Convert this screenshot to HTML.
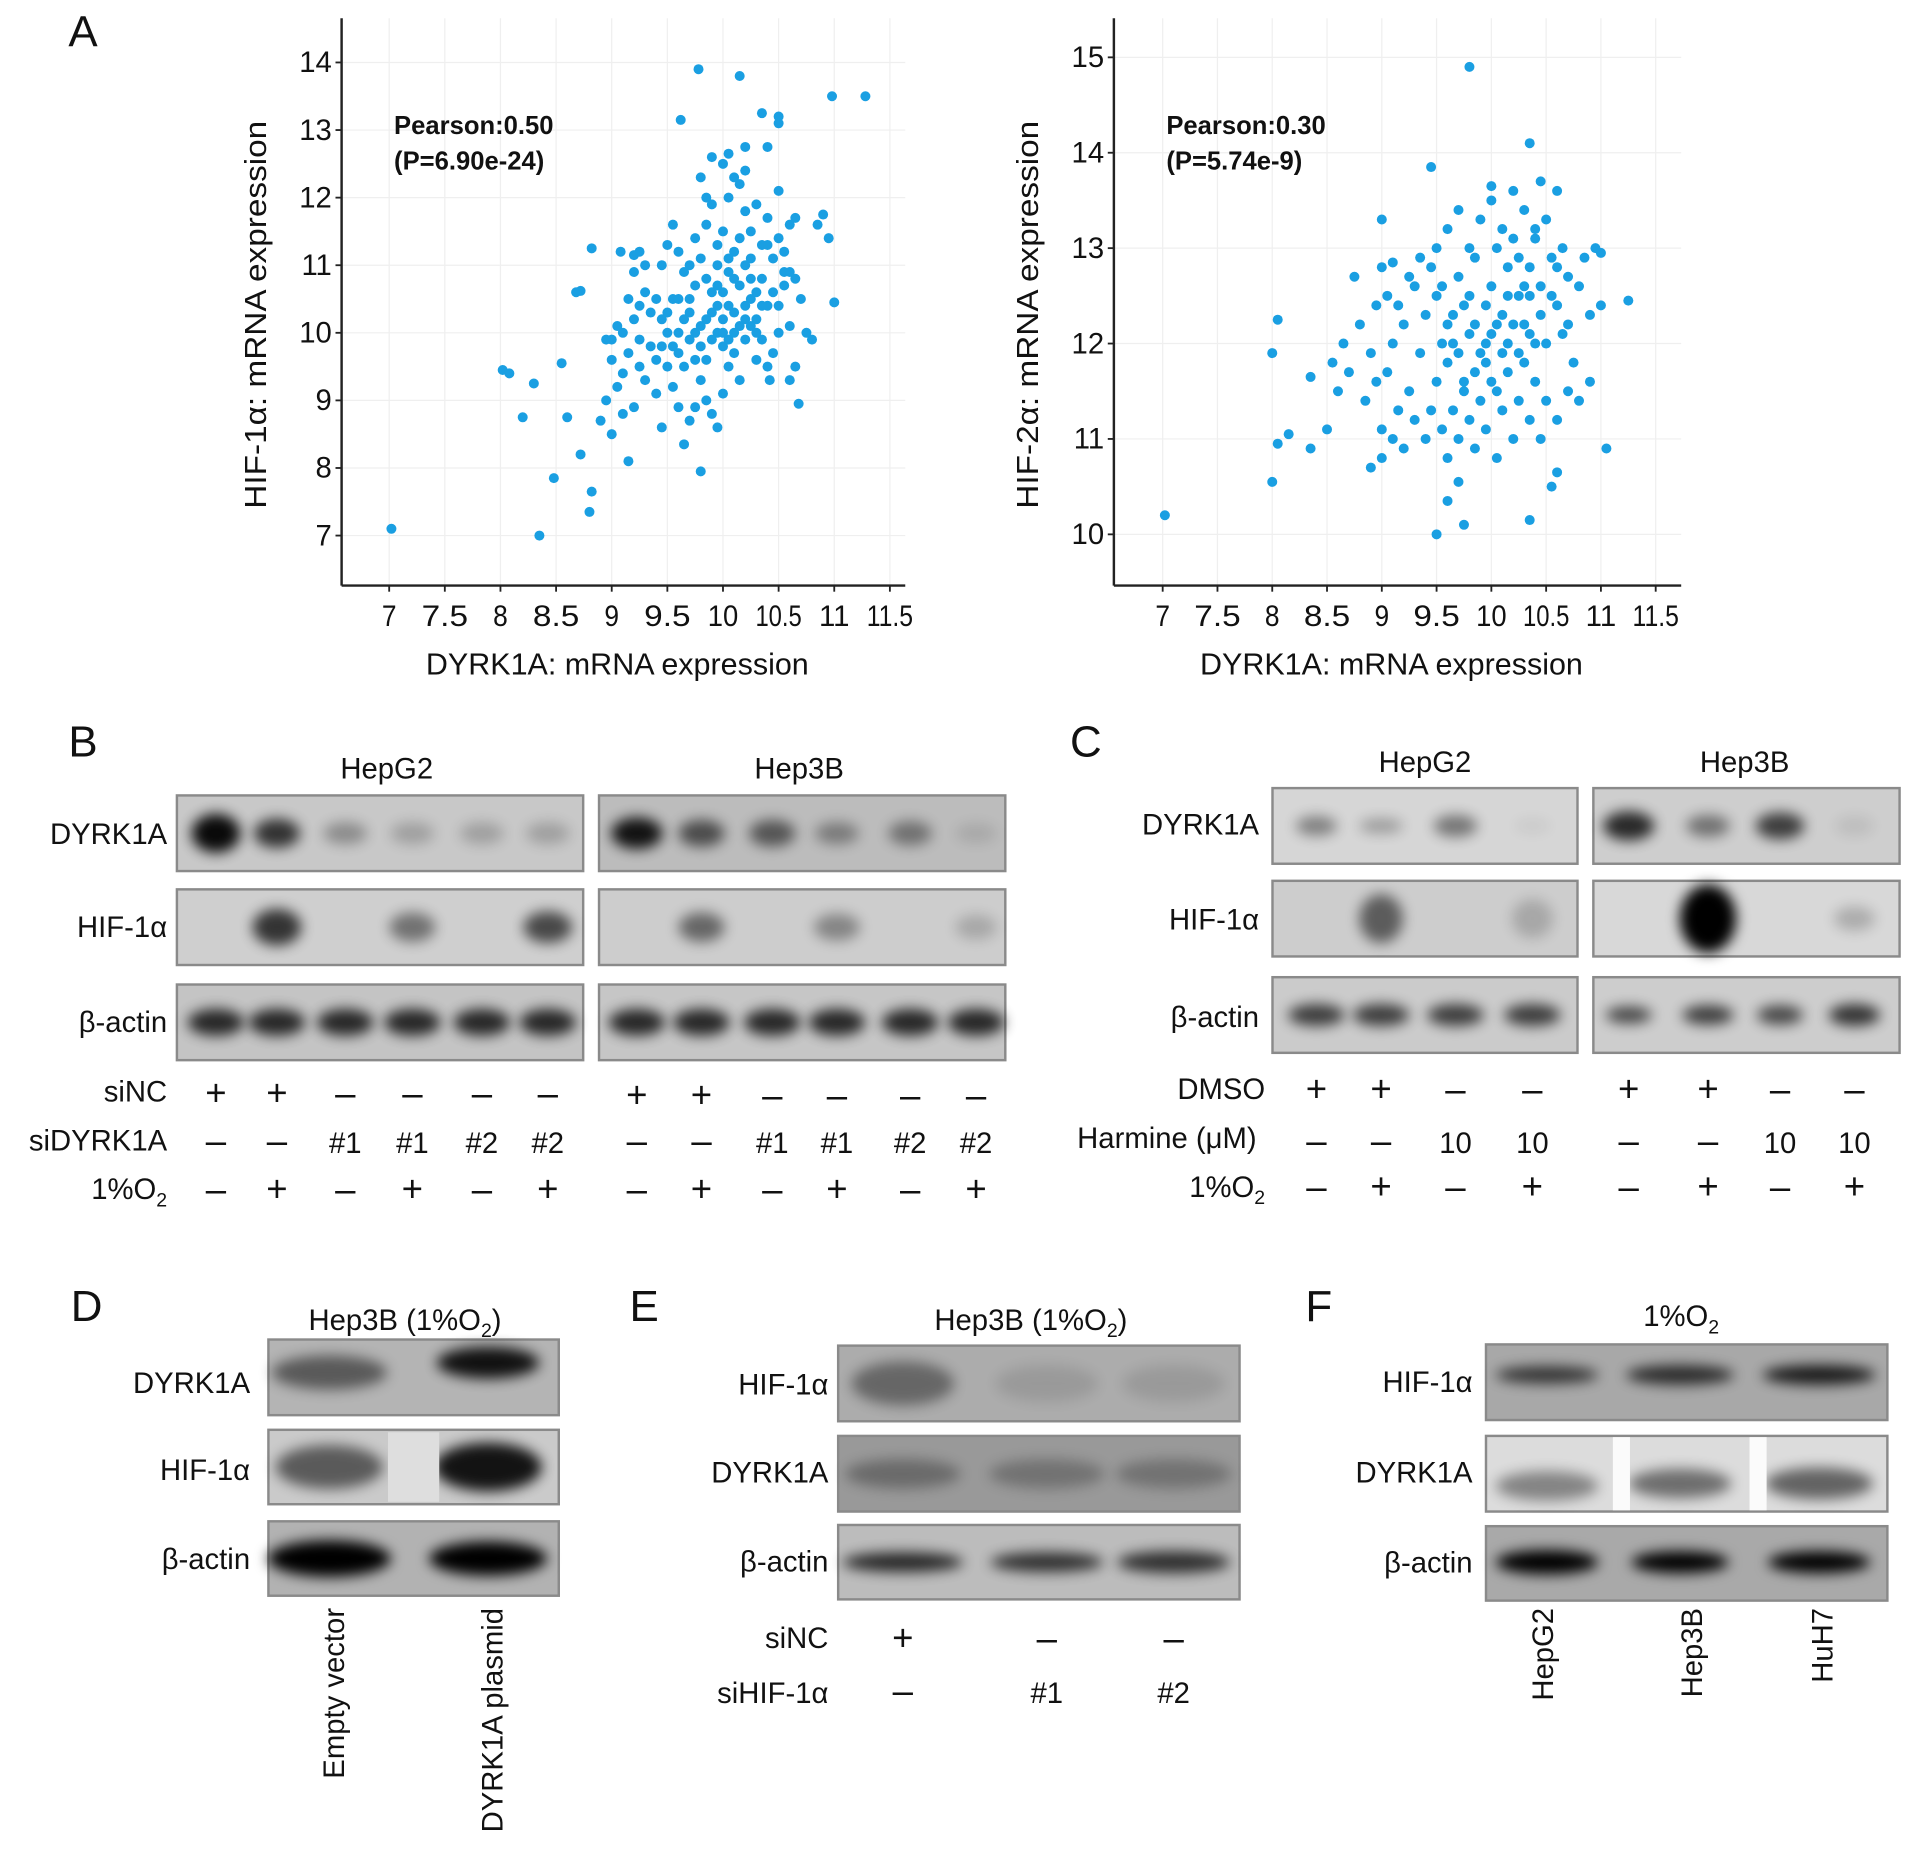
<!DOCTYPE html>
<html><head><meta charset="utf-8"><style>
html,body{margin:0;padding:0;background:#fff;}
svg{display:block;font-family:"Liberation Sans",Arial,sans-serif;}
</style></head><body>
<svg id="fig" width="1913" height="1869" viewBox="0 0 1568 1532" preserveAspectRatio="none" xmlns="http://www.w3.org/2000/svg">
<defs>
<filter id="blur" x="-60%" y="-80%" width="220%" height="260%"><feGaussianBlur stdDeviation="5.5"/></filter>
</defs>
<g id="root"></g>
</svg>
<script>
// ---------- Scatter data ----------
const xTicks = [7, 7.5, 8, 8.5, 9, 9.5, 10, 10.5, 11, 11.5];
const leftYTicks = [7, 8, 9, 10, 11, 12, 13, 14];
const rightYTicks = [10, 11, 12, 13, 14, 15];
const leftPoints = [
[7.02,7.1],[8.35,7.0],[8.8,7.35],[8.82,7.65],[8.48,7.85],[8.72,8.2],[9.15,8.1],[9.8,7.95],[8.02,9.45],[8.08,9.4],
[8.2,8.75],[8.3,9.25],[8.55,9.55],[8.6,8.75],[8.68,10.6],[8.72,10.62],[8.82,11.25],[9.08,11.2],[9.2,11.15],[9.25,11.2],
[9.78,13.9],[10.15,13.8],[10.98,13.5],[11.28,13.5],[9.62,13.15],[10.35,13.25],[10.5,13.2],[10.5,13.1],[10.05,12.65],[10.2,12.75],
[10.4,12.75],[11.0,10.45],[10.68,8.95],[10.65,9.5],[10.42,9.3],[10.8,9.9],[10.95,11.4],[10.85,11.6],[10.9,11.75],[10.5,12.1],
[9.5,10.0],[9.55,9.8],[9.6,9.7],[9.65,10.2],[9.7,10.5],[9.75,9.6],[9.8,10.1],[9.85,10.8],[9.9,9.9],[9.95,10.4],
[10.0,10.6],[10.05,10.9],[10.1,10.3],[10.15,10.7],[10.2,11.0],[10.25,10.5],[10.3,10.2],[10.35,10.8],[10.4,11.3],[10.45,10.6],
[10.5,10.0],[10.55,10.9],[10.6,11.6],[10.65,11.7],[9.4,10.5],[9.35,10.3],[9.3,10.6],[9.25,9.9],[9.2,10.2],[9.15,9.7],
[9.1,10.0],[9.05,9.2],[9.0,8.5],[9.0,9.9],[9.05,10.1],[9.1,8.8],[9.2,8.9],[9.3,9.3],[9.4,9.1],[9.45,8.6],
[9.5,9.5],[9.55,9.2],[9.6,8.9],[9.65,8.35],[9.7,8.7],[9.75,8.9],[9.8,9.3],[9.85,9.0],[9.9,8.8],[9.95,8.6],
[10.0,9.1],[10.05,9.5],[10.1,9.7],[10.15,9.3],[10.2,9.9],[10.25,10.1],[10.3,9.6],[10.35,9.9],[10.4,10.4],[10.45,9.7],
[10.5,10.4],[10.55,10.7],[10.6,10.1],[10.65,10.8],[10.7,10.5],[10.75,10.0],[9.45,11.0],[9.5,11.3],[9.55,11.6],[9.6,11.2],
[9.65,10.9],[9.7,11.0],[9.75,11.4],[9.8,11.1],[9.85,11.6],[9.9,11.9],[9.95,11.3],[10.0,11.5],[10.05,12.0],[10.1,11.2],
[10.15,12.2],[10.2,11.8],[10.25,11.5],[10.3,11.9],[10.35,11.3],[10.4,11.7],[9.4,9.6],[9.45,9.8],[9.5,10.3],[9.6,10.0],
[9.7,10.3],[9.75,10.7],[9.8,9.8],[9.85,10.2],[9.9,10.6],[9.95,10.0],[10.0,10.2],[10.0,9.8],[10.05,10.4],[10.1,10.0],
[10.1,10.8],[10.15,10.1],[10.2,10.4],[10.25,10.8],[10.3,10.6],[10.35,10.4],[10.05,9.9],[9.95,10.7],[9.85,9.6],[9.75,10.0],
[9.65,9.5],[9.55,10.5],[9.45,10.2],[9.35,9.8],[9.25,10.4],[9.15,10.5],[9.8,12.3],[9.85,12.0],[9.9,12.6],[10.0,12.5],
[10.1,12.3],[10.2,12.4],[9.95,11.0],[10.05,11.1],[10.15,11.4],[10.25,11.1],[10.45,11.1],[10.5,11.4],[10.55,11.2],[10.6,10.9],
[9.3,11.0],[9.2,10.9],[9.6,10.5],[9.7,9.9],[9.9,10.3],[10.0,10.0],[10.2,10.2],[10.3,10.0],[10.4,9.5],[10.6,9.3],
[9.0,9.6],[8.95,9.9],[8.9,8.7],[8.95,9.0],[9.1,9.4],[9.25,9.5]
];
const rightPoints = [
[7.02,10.2],[9.8,14.9],[9.45,13.85],[10.35,14.1],[9.5,10.0],[9.75,10.1],[10.35,10.15],[9.7,10.55],[10.6,10.65],[11.05,10.9],
[8.0,10.55],[8.05,10.95],[8.15,11.05],[8.35,10.9],[8.5,11.1],[8.35,11.65],[8.7,11.7],[8.75,12.7],[9.0,13.3],[9.1,12.85],
[11.25,12.45],[11.0,12.95],[10.6,13.6],[10.45,13.7],[10.0,13.65],[8.0,11.9],[8.05,12.25],[10.55,10.5],[9.6,10.35],
[9.5,12.5],[9.55,12.0],[9.6,11.8],[9.65,12.3],[9.7,12.7],[9.75,11.6],[9.8,12.1],[9.85,12.9],[9.9,11.9],[9.95,12.4],
[10.0,12.6],[10.05,13.0],[10.1,12.3],[10.15,12.8],[10.2,13.1],[10.25,12.5],[10.3,12.2],[10.35,12.8],[10.4,13.2],[10.45,12.6],
[10.5,12.0],[10.55,12.9],[10.6,12.4],[10.65,13.0],[10.7,12.2],[10.75,11.8],[10.8,12.6],[10.85,12.9],[10.9,12.3],[10.95,13.0],
[9.4,12.3],[9.35,11.9],[9.3,12.6],[9.25,11.5],[9.2,12.2],[9.15,11.3],[9.1,12.0],[9.05,11.7],[9.0,11.1],[8.95,12.4],
[8.9,11.9],[8.85,11.4],[8.8,12.2],[8.65,12.0],[8.6,11.5],[8.55,11.8],[9.4,11.0],[9.45,11.3],[9.5,11.6],[9.55,11.1],
[9.6,10.8],[9.65,11.3],[9.7,11.0],[9.75,11.5],[9.8,11.2],[9.85,10.9],[9.9,11.4],[9.95,11.1],[10.0,11.6],[10.05,10.8],
[10.1,11.3],[10.15,11.7],[10.2,11.0],[10.25,11.4],[10.3,11.8],[10.35,11.2],[10.4,11.6],[10.45,11.0],[10.5,11.4],[10.6,11.2],
[10.7,11.5],[9.1,11.0],[9.0,10.8],[8.9,10.7],[9.2,10.9],[9.3,11.2],[9.5,13.0],[9.6,13.2],[9.7,13.4],[9.8,13.0],
[9.9,13.3],[10.0,13.5],[10.1,13.2],[10.2,13.6],[10.3,13.4],[10.4,13.1],[9.45,12.8],[9.55,12.6],[9.65,12.0],[9.75,12.4],
[9.85,12.2],[9.95,12.0],[10.05,12.2],[10.15,12.0],[10.25,11.9],[10.35,12.1],[10.45,12.3],[10.55,12.5],[10.65,12.1],[9.85,11.7],
[9.95,11.8],[10.05,11.5],[10.15,12.5],[10.25,12.9],[10.35,12.5],[9.6,12.2],[9.7,11.9],[9.8,12.5],[10.0,12.1],[10.1,11.9],
[10.2,12.2],[10.3,12.6],[10.4,12.0],[9.35,12.9],[9.25,12.7],[9.15,12.4],[9.05,12.5],[8.95,11.6],[9.0,12.8],[10.5,13.3],
[10.6,12.8],[10.7,12.7],[10.8,11.4],[11.0,12.4],[10.9,11.6]
];

const NS = "http://www.w3.org/2000/svg";
const root = document.getElementById('root');
function mk(tag, attrs, parent) {
  const e = document.createElementNS(NS, tag);
  for (const k in attrs) e.setAttribute(k, attrs[k]);
  (parent || root).appendChild(e);
  return e;
}
function txt(x, y, s, size, anchor, parent, extra) {
  const t = mk('text', Object.assign({x: x, y: y, 'font-size': size, 'text-anchor': anchor || 'middle', fill: '#111'}, extra || {}), parent);
  t.innerHTML = s;
  return t;
}

function scatter(opt) {
  const g = mk('g', {});
  
  
  const sx = v => opt.x0px + (v - 7) / 0.5 * opt.xStep;
  const sy = v => opt.y0px - (v - opt.yMin) * opt.yUnit;
  xTicks.forEach(t => {
    const l = mk('line', {x1: sx(t), x2: sx(t), y1: 15, y2: opt.axisY, stroke: '#efefef', 'stroke-width': 1}, g);
    
    
  });
  opt.yTicks.forEach(t => {
    const l = mk('line', {x1: opt.axisX, x2: opt.axisX2, y1: sy(t), y2: sy(t), stroke: '#efefef', 'stroke-width': 1}, g);
    
    
  });
  const ya = mk('line', {x1: opt.axisX, x2: opt.axisX, y1: 15, y2: opt.axisY, stroke: '#222', 'stroke-width': 2}, g);
  
  
  const xa = mk('line', {x1: opt.axisX, x2: opt.axisX2, y1: opt.axisY, y2: opt.axisY, stroke: '#222', 'stroke-width': 2}, g);
  
  
  xTicks.forEach(t => {
    mk('line', {x1: sx(t), x2: sx(t), y1: opt.axisY, y2: opt.axisY + 5, stroke: '#222', 'stroke-width': 1.5}, g);
    const s = String(t);
    const tl = txt(sx(t), opt.axisY + 33, s, 24, 'middle', g, {'textLength': s.length > 2 ? 38 : (s.length > 1 ? 25 : 12), 'lengthAdjust': 'spacingAndGlyphs'});
    
    
  });
  opt.yTicks.forEach(t => {
    mk('line', {x1: opt.axisX - 5, x2: opt.axisX, y1: sy(t), y2: sy(t), stroke: '#222', 'stroke-width': 1.5}, g);
    const tl = txt(opt.axisX - 8, sy(t) + 8, String(t), 24, 'end', g);
    
    
  });
  opt.points.forEach(p => {
    const c = mk('circle', {cx: sx(p[0]), cy: sy(p[1]), r: 4.1, fill: '#1a9fe2'}, g);
    
    
  });
  const xt = txt((opt.axisX + opt.axisX2) / 2 - 5, 553, 'DYRK1A: mRNA expression', 25, 'middle', g);
  
  
  const yt = txt(0, 0, opt.yTitle, 25, 'middle', g, {transform: 'translate(' + (opt.axisX - 62) + ',258) rotate(-90)', textLength: 318, lengthAdjust: 'spacingAndGlyphs'});
  
  
  const a1 = txt(opt.axisX + 43, 110, opt.r, 21, 'start', g, {'font-weight': 'bold'});
  
  
  const a2 = txt(opt.axisX + 43, 139, opt.p, 21, 'start', g, {'font-weight': 'bold'});
  
  
}
scatter({name: 'scatter-hif1a', points: leftPoints, yTicks: leftYTicks, axisX: 280, axisX2: 742, axisY: 480, x0px: 319, xStep: 45.6, y0px: 439, yMin: 7, yUnit: 55.4, yTitle: 'HIF-1α: mRNA expression', r: 'Pearson:0.50', p: '(P=6.90e-24)'});
scatter({name: 'scatter-hif2a', points: rightPoints, yTicks: rightYTicks, axisX: 913, axisX2: 1378, axisY: 480, x0px: 953, xStep: 44.9, y0px: 438, yMin: 10, yUnit: 78.2, yTitle: 'HIF-2α: mRNA expression', r: 'Pearson:0.30', p: '(P=5.74e-9)'});

[['A', 56, 38], ['B', 56, 620], ['C', 877, 620], ['D', 58, 1083], ['E', 516, 1083], ['F', 1070, 1083]].forEach(l => {
  const t = txt(l[1], l[2], l[0], 36, 'start');
  
  
});

function blot(name, x, y, w, h, bg, lanes, bands) {
  const g = mk('g', {});
  
  
  mk('rect', {x: x, y: y, width: w, height: h, fill: bg, stroke: '#8a8a8a', 'stroke-width': 2}, g);
  lanes.forEach((cx, i) => {
    const b = bands[i];
    if (!b || b[0] <= 0) return;
    const e = mk('ellipse', {cx: cx, cy: y + h / 2 + (b[3] || 0), rx: b[1] * 1.05, ry: b[2], fill: '#000', opacity: b[0], filter: 'url(#blur)'}, g);
    
    
  });
  return g;
}
function rowLabel(x, y, s) {
  const t = txt(x, y, s, 24, 'end');
  
  
}
function cond(lanes, y, vals, name) {
  lanes.forEach((cx, i) => {
    const v = vals[i];
    const s = v === '-' ? '–' : v;
    const t = txt(cx, y, s, v === '+' || v === '-' ? 30 : 24, 'middle');
    
    
  });
}
function header(x, y, s) {
  const t = txt(x, y, s, 24, 'middle');
  
  
}

// Panel B
const bL1 = [177, 227, 283, 338, 395, 449], bL2 = [522, 575, 633, 686, 746, 800];
header(317, 638, 'HepG2'); header(655, 638, 'Hep3B');
rowLabel(137, 692, 'DYRK1A'); rowLabel(137, 768, 'HIF-1α'); rowLabel(137, 846, 'β-actin');
blot('b-hepg2-dyrk1a', 145, 652, 333, 62, '#c8c8c8', bL1, [[.95,19,16],[.75,18,12],[.3,17,9],[.2,17,9],[.2,17,9],[.2,17,9]]);
blot('b-hep3b-dyrk1a', 491, 652, 333, 62, '#bcbcbc', bL2, [[.9,20,13],[.6,18,11],[.55,18,11],[.35,17,9],[.4,17,10],[.1,16,8]]);
blot('b-hepg2-hif1a', 145, 729, 333, 62, '#cfcfcf', bL1, [[0],[.75,19,15],[0],[.45,18,12],[0],[.65,19,13]]);
blot('b-hep3b-hif1a', 491, 729, 333, 62, '#cdcdcd', bL2, [[0],[.5,18,12],[0],[.35,18,11],[0],[.18,16,10]]);
blot('b-hepg2-actin', 145, 807, 333, 62, '#c4c4c4', bL1, bL1.map(() => [.8,22,11]));
blot('b-hep3b-actin', 491, 807, 333, 62, '#c6c6c6', bL2, bL2.map(() => [.8,22,11]));
rowLabel(137, 903, 'siNC'); rowLabel(137, 943, 'siDYRK1A'); rowLabel(137, 983, '1%O<tspan font-size="16" dy="6">2</tspan>');
const bNC = ['+','+','-','-','-','-'], bSi = ['-','-','#1','#1','#2','#2'], bO2 = ['-','+','-','+','-','+'];
cond(bL1, 906, bNC, 'sinc-condition'); cond(bL2, 908, bNC, 'sinc-condition');
cond(bL1, 945, bSi, 'sidyrk1a-condition'); cond(bL2, 945, bSi, 'sidyrk1a-condition');
cond(bL1, 985, bO2, 'hypoxia-condition'); cond(bL2, 985, bO2, 'hypoxia-condition');

// Panel C
const cL1 = [1079, 1132, 1193, 1256], cL2 = [1335, 1400, 1459, 1520];
header(1168, 633, 'HepG2'); header(1430, 633, 'Hep3B');
rowLabel(1032, 684, 'DYRK1A'); rowLabel(1032, 762, 'HIF-1α'); rowLabel(1032, 842, 'β-actin');
blot('c-hepg2-dyrk1a', 1043, 646, 250, 62, '#d6d6d6', cL1, [[.4,16,8],[.28,17,6],[.45,17,9],[.05,14,6]]);
blot('c-hep3b-dyrk1a', 1306, 646, 251, 62, '#cecece', cL2, [[.8,20,12],[.45,17,9],[.7,19,11],[.08,15,8]]);
blot('c-hepg2-hif1a', 1043, 722, 250, 62, '#cdcdcd', cL1, [[0],[.55,17,20],[0],[.18,16,16]]);
blot('c-hep3b-hif1a', 1306, 722, 251, 62, '#d8d8d8', cL2, [[0],[1,22,28],[0],[.2,16,10]]);
blot('c-hepg2-actin', 1043, 801, 250, 62, '#cbcbcb', cL1, cL1.map(() => [.7,22,9]));
blot('c-hep3b-actin', 1306, 801, 251, 62, '#cdcdcd', cL2, [[.65,18,7],[.7,20,8],[.65,18,8],[.75,20,9]]);
rowLabel(1037, 901, 'DMSO'); rowLabel(1030, 941, 'Harmine (μM)'); rowLabel(1037, 981, '1%O<tspan font-size="16" dy="6">2</tspan>');
const cD = ['+','+','-','-'], cH = ['-','-','10','10'], cO = ['-','+','-','+'];
cond(cL1, 903, cD, 'dmso-condition'); cond(cL2, 903, cD, 'dmso-condition');
cond(cL1, 945, cH, 'harmine-condition'); cond(cL2, 945, cH, 'harmine-condition');
cond(cL1, 983, cO, 'hypoxia-condition'); cond(cL2, 983, cO, 'hypoxia-condition');

// Panel D
const dL = [270, 400];
header(332, 1090, 'Hep3B (1%O<tspan font-size="16" dy="6">2</tspan><tspan dy="-6">)</tspan>');
rowLabel(205, 1142, 'DYRK1A'); rowLabel(205, 1213, 'HIF-1α'); rowLabel(205, 1286, 'β-actin');
blot('d-dyrk1a', 220, 1098, 238, 62, '#b4b4b4', dL, [[.5,45,14,-4],[.9,40,13,-12]]);
const dh = blot('d-hif1a', 220, 1172, 238, 61, '#cacaca', dL, [[.55,42,18],[.9,42,20]]);
mk('rect', {x: 318, y: 1174, width: 42, height: 57, fill: '#dedede'}, dh);
blot('d-actin', 220, 1247, 238, 61, '#b2b2b2', dL, [[1,48,15],[1,46,14]]);
[['Empty vector', 282], ['DYRK1A plasmid', 412]].forEach(v => {
  const t = txt(0, 0, v[0], 24, 'end', null, {transform: 'translate(' + v[1] + ',1318) rotate(-90)'});
  
  
});

// Panel E
const eL = [740, 858, 962];
header(845, 1090, 'Hep3B (1%O<tspan font-size="16" dy="6">2</tspan><tspan dy="-6">)</tspan>');
rowLabel(679, 1143, 'HIF-1α'); rowLabel(679, 1215, 'DYRK1A'); rowLabel(679, 1288, 'β-actin');
blot('e-hif1a', 687, 1103, 329, 62, '#acacac', eL, [[.4,40,18],[.1,40,15],[.1,40,15]]);
blot('e-dyrk1a', 687, 1177, 329, 62, '#999999', eL, [[.3,45,12],[.25,45,12],[.25,45,12]]);
blot('e-actin', 687, 1250, 329, 61, '#bcbcbc', eL, [[.8,47,8],[.75,44,8],[.75,44,9]]);
rowLabel(679, 1351, 'siNC'); rowLabel(679, 1396, 'siHIF-1α');
cond(eL, 1353, ['+','-','-'], 'sinc-condition');
cond(eL, 1396, ['-','#1','#2'], 'sihif1a-condition');

// Panel F
const fL = [1268, 1377, 1491];
header(1378, 1087, '1%O<tspan font-size="16" dy="6">2</tspan>');
rowLabel(1207, 1141, 'HIF-1α'); rowLabel(1207, 1215, 'DYRK1A'); rowLabel(1207, 1289, 'β-actin');
blot('f-hif1a', 1218, 1102, 329, 62, '#a8a8a8', fL, [[.7,40,7,-6],[.75,42,8,-6],[.85,44,8,-6]]);
const fd = blot('f-dyrk1a', 1218, 1177, 329, 62, '#dcdcdc', fL, [[.4,40,12,10],[.5,40,12,8],[.55,42,13,8]]);
mk('rect', {x: 1322, y: 1178, width: 14, height: 60, fill: '#fbfbfb'}, fd);
mk('rect', {x: 1434, y: 1178, width: 14, height: 60, fill: '#fbfbfb'}, fd);
blot('f-actin', 1218, 1251, 329, 61, '#a9a9a9', fL, [[1,40,10,-1],[1,38,9,-1],[1,40,9,-1]]);
[['HepG2', 1273], ['Hep3B', 1395], ['HuH7', 1502]].forEach(v => {
  const t = txt(0, 0, v[0], 24, 'end', null, {transform: 'translate(' + v[1] + ',1318) rotate(-90)'});
  
  
});
</script>
</body></html>
